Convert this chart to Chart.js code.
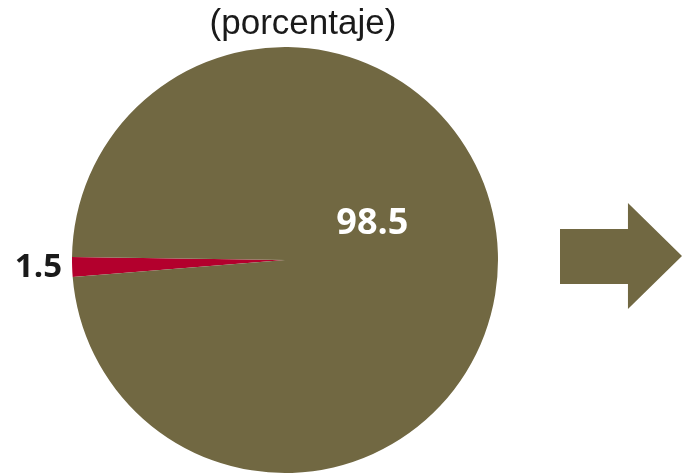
<!DOCTYPE html>
<html>
<head>
<meta charset="utf-8">
<script src="https://cdn.jsdelivr.net/npm/chart.js@4"></script>
<style>
  html, body { margin: 0; padding: 0; background: #fff; }
  #wrap { position: relative; width: 682px; height: 475px; }
  #arrow {
    position: absolute; left: 560px; top: 203px; width: 122px; height: 106px;
    background: #716842;
    clip-path: polygon(0 24.5%, 55.7% 24.5%, 55.7% 0, 100% 50%, 55.7% 100%, 55.7% 76.4%, 0 76.4%);
  }
</style>
</head>
<body>
<div id="wrap">
  <canvas id="pieChart" width="682" height="475"></canvas>
  <div id="arrow"></div>
</div>
<script>
// Data
const labels = ["Otros", "Resto"];
const values = [1.5, 98.5];
const colors = ["#b3002d", "#716842"];
const titleText = "(porcentaje)";

// Draw title and value labels by hand (no datalabels plugin here)
const labelPlugin = {
    id: "labelPlugin",
    afterDraw(chart) {
        const ctx = chart.ctx;
        const arcs = chart.getDatasetMeta(0).data;

        ctx.save();
        ctx.font = "35px 'Liberation Sans', Arial, sans-serif";
        ctx.fillStyle = "#1a1a1a";
        ctx.textAlign = "center";
        ctx.textBaseline = "middle";
        ctx.fillText(titleText, 303, 24);

        arcs.forEach((arc, i) => {
            const r = arc.outerRadius;
            const mid = (arc.startAngle + arc.endAngle) / 2;
            if (values[i] < 5) {
                // small slice: label outside, right-aligned
                ctx.font = "bold 33px 'Open Sans', sans-serif";
                ctx.fillStyle = "#1a1a1a";
                ctx.textAlign = "right";
                ctx.fillText(values[i].toFixed(1), arc.x - r - 10, arc.y + Math.sin(mid) * r + 1);
            } else {
                ctx.font = "bold 36px 'Open Sans', sans-serif";
                ctx.fillStyle = "#ffffff";
                ctx.textAlign = "center";
                ctx.fillText(values[i].toFixed(1), arc.x + r * 0.41, arc.y - r * 0.17);
            }
        });
        ctx.restore();
    },
};

const ctx = document.getElementById("pieChart").getContext("2d");
new Chart(ctx, {
    type: "pie",
    data: {
        labels: labels,
        datasets: [{
            data: values,
            backgroundColor: colors,
            borderWidth: 0,
        }],
    },
    options: {
        responsive: false,
        animation: false,
        rotation: 265.4,
        layout: {
            padding: { top: 47, bottom: 2, left: 72, right: 184 },
        },
        plugins: {
            legend: { display: false },
            tooltip: { enabled: false },
            title: { display: false },
        },
    },
    plugins: [labelPlugin],
});
</script>
</body>
</html>
